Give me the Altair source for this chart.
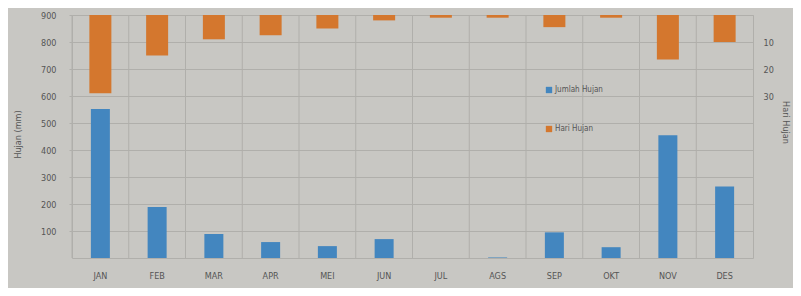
import altair as alt
import pandas as pd

bulan = ["JAN", "FEB", "MAR", "APR", "MEI", "JUN", "JUL", "AGS", "SEP", "OKT", "NOV", "DES"]
jumlah_hujan = [552, 189, 89, 59, 44, 70, 0, 2, 95, 40, 455, 265]
hari_hujan = [29, 15, 9, 7.5, 5, 2, 1, 1, 4.5, 1, 16.5, 10]
seri = ["Jumlah Hujan", "Hari Hujan"]
left_ticks = [100, 200, 300, 400, 500, 600, 700, 800, 900]
right_ticks = [10, 20, 30]

df_j = pd.DataFrame({"bulan": bulan, "nilai": jumlah_hujan, "seri": seri[0]})
df_h = pd.DataFrame({"bulan": bulan, "nilai": hari_hujan, "seri": seri[1]})

FONT = "Liberation Sans Narrow, DejaVu Sans Condensed, Arial Narrow, sans-serif"
GRID = "#b0afab"
TXT = "#555555"

color = alt.Color(
    "seri:N",
    scale=alt.Scale(domain=seri, range=["#4386bf", "#d4772e"]),
    legend=alt.Legend(
        title=None, orient="none", legendX=473, legendY=71, direction="vertical",
        symbolType="square", symbolSize=40, symbolStrokeWidth=0,
        labelFontSize=8, labelColor=TXT, labelFont=FONT, rowPadding=31, labelOffset=2,
    ),
)

x_axis = alt.Axis(title=None, labelAngle=0, labelFontSize=9, labelColor=TXT, labelFont=FONT,
                  labelPadding=13, ticks=False, domain=False, grid=False)
x_scale = alt.Scale(paddingInner=0, paddingOuter=0)

vgrid = alt.Chart(df_j).mark_rule(color=GRID, strokeWidth=1).encode(
    x=alt.X("bulan:N", sort=bulan, bandPosition=0, scale=x_scale, axis=x_axis)
)

blue = alt.Chart(df_j).mark_bar(size=19).encode(
    x=alt.X("bulan:N", sort=bulan, scale=x_scale, axis=x_axis),
    y=alt.Y(
        "nilai:Q",
        scale=alt.Scale(domain=[0, 900], nice=False),
        axis=alt.Axis(
            orient="left", title="Hujan (mm)", values=left_ticks, grid=True, gridColor=GRID,
            tickSize=3, tickColor=GRID, domain=False, labelFontSize=9, labelColor=TXT,
            labelFont=FONT, labelPadding=13, titleFont=FONT, titleFontSize=9,
            titleFontWeight="normal", titleColor=TXT, titleX=-50, titleY=119,
        ),
    ),
    color=color,
)

orange = alt.Chart(df_h).mark_bar(size=22).encode(
    x=alt.X("bulan:N", sort=bulan, scale=x_scale, axis=x_axis),
    y=alt.Y(
        "nilai:Q",
        scale=alt.Scale(domain=[0, 90], reverse=True, nice=False),
        axis=alt.Axis(
            orient="right", title="Hari Hujan", values=right_ticks, grid=False, ticks=False,
            domain=False, labelFontSize=9, labelColor=TXT, labelFont=FONT, labelPadding=10,
            titleFont=FONT, titleFontSize=9, titleFontWeight="normal", titleColor=TXT,
            titleAngle=90, titleX=27, titleY=107,
        ),
    ),
    color=color,
)

chart = (
    alt.layer(vgrid, blue, orange)
    .resolve_scale(y="independent")
    .properties(
        width=681, height=243,
        autosize=alt.AutoSizeParams(type="none"),
        padding={"left": 64, "top": 7, "right": 40, "bottom": 30},
        background="#c8c7c3",
    )
    .configure_view(stroke=GRID, strokeWidth=1)
)

chart.save("out.html", embed_options={"renderer": "svg", "actions": False})
